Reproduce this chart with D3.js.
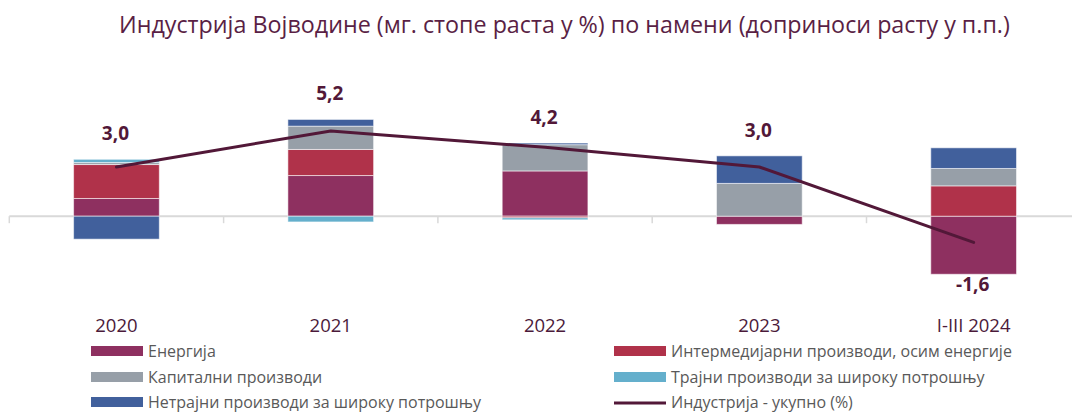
<!DOCTYPE html>
<html><head><meta charset="utf-8">
<script src="https://cdn.jsdelivr.net/npm/d3@7"></script>
<style>
html,body{margin:0;padding:0;background:#fff;}
svg{display:block;font-family:"Open Sans","Noto Sans",sans-serif;}
</style></head>
<body><svg id="c" width="1072" height="414"></svg>
<script>
const categories = ["2020", "2021", "2022", "2023", "I-III 2024"];
const energy       = [1.08, 2.48, 2.76, -0.50, -3.54];
const intermediate = [2.07, 1.59, -0.10, 0.00, 1.85];
const capital      = [0.12, 1.42, 1.60, 2.00, 1.06];
const durable      = [0.20, -0.35, -0.12, 0.00, 0.00];
const nondurable   = [-1.40, 0.41, 0.10, 1.68, 1.26];
const total        = [3.0, 5.2, 4.2, 3.0, -1.6];
const totalLabels  = ["3,0", "5,2", "4,2", "3,0", "-1,6"];

const seriesKeys  = ["energy", "intermediate", "capital", "durable", "nondurable"];
const seriesNames = ["Енергија", "Интермедијарни производи, осим енергије", "Капитални производи",
                     "Трајни производи за широку потрошњу", "Нетрајни производи за широку потрошњу"];
const lineName = "Индустрија - укупно (%)";
const title = "Индустрија Војводине (мг. стопе раста у %) по намени (доприноси расту у п.п.)";

const colors = {energy:"#8e3060", intermediate:"#b0324a", capital:"#979fa8", durable:"#64afcc", nondurable:"#41609c"};
const lineColor = "#521838";

const rows = categories.map((c,i)=>({cat:c, energy:energy[i], intermediate:intermediate[i],
  capital:capital[i], durable:durable[i], nondurable:nondurable[i], total:total[i]}));

const svg = d3.select("#c");
function fit(sel, w){ // adjust font-size so that text width matches w
  sel.each(function(){
    const fs = parseFloat(this.getAttribute("font-size"));
    const len = this.getComputedTextLength();
    if(len>0) this.setAttribute("font-size", (fs*w/len).toFixed(2));
  });
}

// title
svg.append("text").attr("x", 119).attr("y", 33).attr("font-size", 22).attr("fill", "#5a1f45")
  .text(title).call(fit, 891);

const x = d3.scaleBand().domain(categories).range([9.3, 9.3 + 5*214.3]).padding(0);
const y = d3.scaleLinear().domain([-4, 6]).range([216.2 + 4*16.4, 216.2 - 6*16.4]);

const stack = d3.stack().keys(seriesKeys).offset(d3.stackOffsetDiverging);
const stacked = stack(rows);

const barW = x.bandwidth()*0.4;
const bx = c => x(c) + (x.bandwidth()-barW)/2;

// axis line + ticks
const g0 = svg.append("g");
g0.append("line").attr("x1", x.range()[0]).attr("x2", 1072).attr("y1", y(0)).attr("y2", y(0))
  .attr("stroke", "#d9d9d9").attr("stroke-width", 2);
g0.selectAll("line.t").data(categories.concat([null])).join("line").attr("class","t")
  .attr("x1", (d,i)=> x.range()[0] + i*x.step()).attr("x2", (d,i)=> x.range()[0] + i*x.step())
  .attr("y1", y(0)).attr("y2", y(0)+7).attr("stroke", "#d9d9d9").attr("stroke-width", 1.5);

// bars
svg.append("g").selectAll("g").data(stacked).join("g").attr("fill", d=>colors[d.key])
  .selectAll("rect").data(d=>d).join("rect")
  .attr("x", d=>bx(d.data.cat)).attr("width", barW)
  .attr("y", d=>y(Math.max(d[0],d[1]))).attr("height", d=>Math.abs(y(d[0])-y(d[1])))
  .attr("stroke", "#ffffff").attr("stroke-opacity", 0.55).attr("stroke-width", 1);

// line
const line = d3.line().x(d=>x(d.cat)+x.bandwidth()/2).y(d=>y(d.total));
svg.append("path").datum(rows).attr("d", line).attr("fill","none")
  .attr("stroke", lineColor).attr("stroke-width", 3).attr("stroke-linecap","round").attr("stroke-linejoin","round");

// total labels
svg.append("g").selectAll("text").data(rows).join("text")
  .attr("x", d=>x(d.cat)+x.bandwidth()/2 - 1)
  .attr("y", (d,i)=>{
    const top = d3.sum(seriesKeys, k=>Math.max(0,d[k]));
    const bot = d3.sum(seriesKeys, k=>Math.min(0,d[k]));
    return d.total >= 0 ? Math.min(y(top), y(d.total)) - 19 : y(bot) + 17;
  })
  .attr("text-anchor","middle").attr("font-size", 19).attr("font-weight","bold").attr("fill", lineColor)
  .text((d,i)=>totalLabels[i]);

// x labels
svg.append("g").selectAll("text").data(categories).join("text")
  .attr("x", d=>x(d)+x.bandwidth()/2).attr("y", 332).attr("text-anchor","middle")
  .attr("font-size", 18.5).attr("fill", "#4b1a3a").text(d=>d);

// legend
const leg = [
  {name:seriesNames[0], key:"energy", col:0, row:0},
  {name:seriesNames[1], key:"intermediate", col:1, row:0},
  {name:seriesNames[2], key:"capital", col:0, row:1},
  {name:seriesNames[3], key:"durable", col:1, row:1},
  {name:seriesNames[4], key:"nondurable", col:0, row:2},
  {name:lineName, key:null, col:1, row:2}
];
const colX = [91, 614];
const rowY = [351, 377, 402];
const lg = svg.append("g").selectAll("g").data(leg).join("g")
  .attr("transform", d=>`translate(${colX[d.col]},${rowY[d.row]})`);
lg.filter(d=>d.key).append("rect").attr("x",0).attr("y",-5).attr("width",52).attr("height",10)
  .attr("fill", d=>colors[d.key]);
lg.filter(d=>!d.key).append("line").attr("x1",0).attr("x2",52).attr("y1",1).attr("y2",1)
  .attr("stroke", lineColor).attr("stroke-width",3);
lg.append("text").attr("x", 57).attr("y", 6).attr("font-size", 16).attr("fill","#595959").text(d=>d.name);
</script></body></html>
